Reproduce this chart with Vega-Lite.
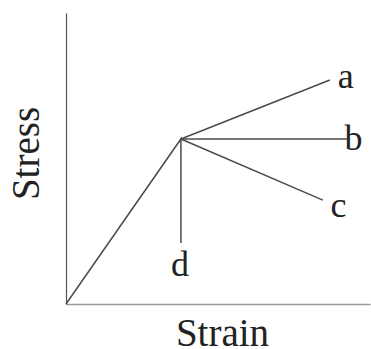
{
  "$schema": "https://vega.github.io/schema/vega-lite/v6.json",
  "width": 304,
  "height": 291,
  "autosize": {"type": "none"},
  "padding": {"left": 66, "top": 13, "right": 1, "bottom": 45},
  "background": "white",
  "config": {"view": {"stroke": null}},
  "datasets": {
    "lines": [
      {"curve": "d", "strain": 0, "stress": 0, "order": 0},
      {"curve": "d", "strain": 37.8, "stress": 56.7, "order": 1},
      {"curve": "d", "strain": 37.8, "stress": 21, "order": 2},
      {"curve": "a", "strain": 37.8, "stress": 56.7, "order": 1},
      {"curve": "a", "strain": 86.8, "stress": 77, "order": 2},
      {"curve": "b", "strain": 37.8, "stress": 56.7, "order": 1},
      {"curve": "b", "strain": 92.4, "stress": 56.7, "order": 2},
      {"curve": "c", "strain": 37.8, "stress": 56.7, "order": 1},
      {"curve": "c", "strain": 84.5, "stress": 35.7, "order": 2}
    ],
    "labels": [
      {"label": "a", "strain": 92, "stress": 78},
      {"label": "b", "strain": 94.6, "stress": 56.7},
      {"label": "c", "strain": 89.6, "stress": 33.8},
      {"label": "d", "strain": 37.5, "stress": 13.5}
    ]
  },
  "layer": [
    {
      "data": {"name": "lines"},
      "mark": {"type": "line", "color": "#4a4a4a", "strokeWidth": 1.5},
      "encoding": {
        "x": {
          "field": "strain", "type": "quantitative",
          "scale": {"domain": [0, 100], "nice": false},
          "axis": {
            "title": "Strain", "labels": false, "ticks": false, "grid": false,
            "domainColor": "#9a9a9a", "domainWidth": 1.5,
            "titleFont": "Liberation Serif", "titleFontSize": 39, "titleFontWeight": "normal",
            "titleColor": "#222", "titlePadding": 10, "titleX": 156
          }
        },
        "y": {
          "field": "stress", "type": "quantitative",
          "scale": {"domain": [0, 100], "nice": false},
          "axis": {
            "title": "Stress", "labels": false, "ticks": false, "grid": false,
            "domainColor": "#555", "domainWidth": 1.2,
            "titleFont": "Liberation Serif", "titleFontSize": 39, "titleFontWeight": "normal",
            "titleColor": "#222", "titlePadding": 20, "titleY": 140
          }
        },
        "detail": {"field": "curve"},
        "order": {"field": "order"}
      }
    },
    {
      "data": {"name": "labels"},
      "mark": {"type": "text", "font": "Liberation Serif", "fontSize": 36, "color": "#222", "baseline": "middle", "align": "center"},
      "encoding": {
        "x": {"field": "strain", "type": "quantitative"},
        "y": {"field": "stress", "type": "quantitative"},
        "text": {"field": "label"}
      }
    }
  ]
}
